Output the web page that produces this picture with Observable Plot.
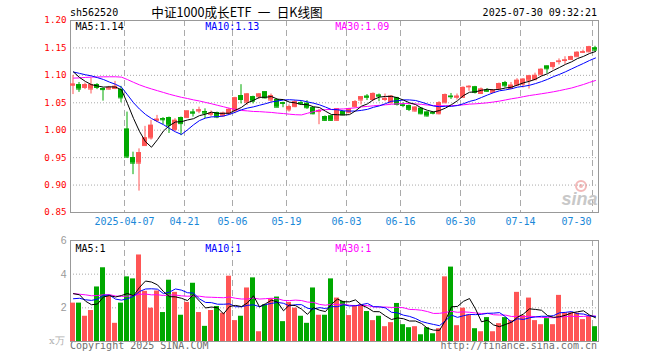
<!DOCTYPE html>
<html><head><meta charset="utf-8">
<script src="https://cdn.jsdelivr.net/npm/d3@7"></script>
<script src="https://cdn.jsdelivr.net/npm/@observablehq/plot@0.6"></script>
<style>
body{margin:0;background:#fff;}
#wrap{position:relative;width:660px;height:360px;overflow:hidden;}
#wrap > *{position:absolute;left:0;}
</style></head><body><div id="wrap"></div>
<script>
const dates = ["03-24","03-25","03-26","03-27","03-28","03-31","04-01","04-02","04-03","04-07","04-08","04-09","04-10","04-11","04-14","04-15","04-16","04-17","04-18","04-21","04-22","04-23","04-24","04-25","04-28","04-29","04-30","05-06","05-07","05-08","05-09","05-12","05-13","05-14","05-15","05-16","05-19","05-20","05-21","05-22","05-23","05-26","05-27","05-28","05-29","05-30","06-03","06-04","06-05","06-06","06-09","06-10","06-11","06-12","06-13","06-16","06-17","06-18","06-19","06-20","06-23","06-24","06-25","06-26","06-27","06-30","07-01","07-02","07-03","07-04","07-07","07-08","07-09","07-10","07-11","07-14","07-15","07-16","07-17","07-18","07-21","07-22","07-23","07-24","07-25","07-28","07-29","07-30"];
const open = [1.082,1.083,1.078,1.075,1.083,1.076,1.075,1.076,1.074,1.002, 0.950,0.940,0.972,0.986,1.018,1.021,1.023,1.001,1.023,1.023, 1.033,1.035,1.034,1.029,1.032,1.026,1.030,1.036,1.063,1.051, 1.061,1.061,1.070,1.055,1.056,1.050,1.037,1.043,1.050,1.049, 1.041,1.034,1.025,1.026,1.018,1.034,1.032,1.043,1.055,1.062, 1.056,1.064,1.056,1.050,1.059,1.046,1.045,1.035,1.040,1.033, 1.032,1.030,1.050,1.062,1.060,1.060,1.079,1.079,1.067,1.073, 1.069,1.075,1.087,1.076,1.082,1.084,1.091,1.092,1.101,1.117, 1.116,1.125,1.127,1.129,1.134,1.142,1.143,1.150];
const high = [1.100,1.087,1.086,1.095,1.085,1.077,1.080,1.089,1.080,1.033, 0.960,0.966,1.007,1.018,1.027,1.023,1.024,1.021,1.024,1.035, 1.038,1.042,1.039,1.035,1.033,1.033,1.040,1.060,1.083,1.067, 1.062,1.067,1.070,1.066,1.057,1.051,1.046,1.054,1.054,1.054, 1.042,1.038,1.026,1.027,1.039,1.035,1.040,1.054,1.061,1.065, 1.068,1.066,1.066,1.063,1.060,1.050,1.046,1.043,1.041,1.034, 1.034,1.052,1.066,1.067,1.066,1.079,1.081,1.080,1.077,1.076, 1.074,1.086,1.089,1.087,1.094,1.094,1.100,1.104,1.112,1.117, 1.123,1.130,1.134,1.135,1.143,1.146,1.153,1.153];
const low = [1.065,1.069,1.074,1.066,1.074,1.053,1.073,1.074,1.050,0.949, 0.919,0.889,0.972,0.982,1.014,1.010,0.994,0.998,0.990,1.022, 1.024,1.030,1.021,1.024,1.021,1.024,1.028,1.030,1.048,1.045, 1.048,1.056,1.057,1.051,1.041,1.041,1.033,1.041,1.046,1.038, 1.028,1.010,1.016,1.016,1.016,1.027,1.030,1.041,1.046,1.054, 1.052,1.052,1.052,1.048,1.044,1.041,1.034,1.033,1.028,1.024, 1.028,1.028,1.050,1.056,1.055,1.059,1.071,1.066,1.065,1.069, 1.068,1.073,1.077,1.075,1.080,1.077,1.075,1.091,1.100,1.103, 1.110,1.119,1.120,1.128,1.134,1.140,1.141,1.143];
const close = [1.084,1.075,1.083,1.083,1.078,1.074,1.078,1.080,1.059,0.951, 0.940,0.959,0.986,1.009,1.020,1.019,1.009,1.018,1.012,1.035, 1.031,1.037,1.031,1.031,1.024,1.031,1.038,1.059,1.056,1.066, 1.053,1.066,1.059,1.063,1.042,1.049,1.043,1.052,1.048,1.041, 1.030,1.036,1.018,1.018,1.039,1.028,1.039,1.052,1.061,1.060, 1.067,1.062,1.058,1.062,1.047,1.045,1.038,1.042,1.030,1.026, 1.031,1.050,1.065,1.061,1.062,1.078,1.080,1.069,1.075,1.071, 1.073,1.085,1.081,1.082,1.091,1.093,1.099,1.100,1.111,1.112, 1.123,1.126,1.128,1.134,1.142,1.143,1.152,1.146];
const volume = [2.28,2.28,1.50,1.84,3.24,4.38,2.68,1.08,2.28,3.84, 3.72,5.14,2.98,1.98,3.00,1.72,3.64,2.92,1.56,2.32, 3.46,1.72,0.90,1.84,2.08,1.68,3.88,1.24,1.50,3.18, 3.78,0.58,2.18,2.54,2.64,1.18,2.32,1.98,1.50,1.08, 3.18,1.56,1.56,3.72,2.58,2.38,1.54,2.14,2.18,1.78, 1.24,1.50,0.88,1.12,2.26,1.00,0.82,0.88,0.40,0.82, 0.46,0.76,3.84,4.42,0.94,1.98,1.58,0.76,0.58,1.42, 0.58,1.06,1.42,1.24,2.92,1.54,2.58,1.24,1.00,1.36, 1.00,2.74,1.70,1.70,1.68,1.30,1.50,0.88];
// estimated sessions before the visible window (needed for the moving averages)
const priorCloses = [1.062,1.058,1.065,1.070,1.068,1.075,1.080,1.078,1.085,1.090, 1.098,1.105,1.112,1.118,1.115,1.108,1.102,1.095,1.100,1.104, 1.100,1.108,1.104,1.110,1.108, 1.125,1.120,1.112,1.090];
const priorVolumes = [3.2,2.6,3.5,2.8,3.1,2.4,3.6,2.9,3.3,2.7, 3.0,2.5,3.4,2.8,3.1,2.6,3.2,2.9,3.0,3.2, 2.0,2.4,2.2,2.5,2.1, 2.6,3.4,2.9,3.02];
const tickDates = ["04-07","04-21","05-06","05-19","06-03","06-16","06-30","07-14","07-30"];
const tickLabels = ["2025-04-07","04-21","05-06","05-19","06-03","06-16","06-30","07-14","07-30"];
const priceTicks = [0.85,0.90,0.95,1.00,1.05,1.10,1.15,1.20];
const volTicks = [2,4,6];
const priceLegend = ["MA5:1.14","MA10:1.13","MA30:1.09"];
const volLegend = ["MA5:1","MA10:1","MA30:1"];
const maColors = ["#000000","#0000ff","#ff00ff"];

const UP = "#ff5555", DOWN = "#00a800";
const MONO = "DejaVu Sans Mono";

function movingAvg(series, prior, n) {
  const all = prior.concat(series), off = prior.length;
  return series.map((_, i) => d3.mean(all.slice(off + i - n + 1, off + i + 1)));
}
const pMA = [5, 10, 30].map(n => movingAvg(close, priorCloses, n));
const vMA = [5, 10, 30].map(n => movingAvg(volume, priorVolumes, n));

const candles = dates.map((d, i) => ({date: d, open: open[i], high: high[i], low: low[i], close: close[i], vol: volume[i], up: close[i] >= open[i]}));
const col = d => d.up ? UP : DOWN;
const legendX = [5, 134.7, 264.7];

const main = Plot.plot({
  width: 660, height: 230,
  marginLeft: 70, marginRight: 62, marginTop: 20, marginBottom: 18,
  x: {type: "band", domain: dates, padding: 0, axis: null},
  y: {domain: [0.85, 1.20], axis: null},
  style: {background: "transparent", fontFamily: MONO, overflow: "visible"},
  marks: [
    Plot.ruleY(priceTicks.slice(1, -1), {stroke: "#aaa", strokeDasharray: "1,2"}),
    Plot.ruleX(tickDates, {x: d => d, dx: -3, stroke: "#aaa", strokeDasharray: "6,4"}),
    Plot.frame({stroke: "#999"}),
    Plot.text(["sina"], {text: d => d, frameAnchor: "bottom-right", textAnchor: "end", dx: -1, dy: -8, fontSize: 18, fontWeight: "bold", fontStyle: "italic", fontFamily: "Liberation Sans", fill: "#c8c8c8"}),
    Plot.ruleX(candles, {x: "date", y1: "low", y2: "high", stroke: col, dx: -0.5}),
    Plot.barY(candles, {x: "date", y1: "open", y2: "close", fill: col, insetRight: 1}),
    Plot.tickY(candles, {x: "date", y: "open", stroke: col, insetRight: 1}),
    Plot.tickY(candles, {x: "date", y: "close", stroke: col, insetRight: 1}),
    ...[2, 1, 0].map(k => Plot.line(candles, {x: "date", y: (d, i) => pMA[k][i], stroke: maColors[k], strokeWidth: 1})),
    Plot.text(priceTicks, {y: d => d, text: d => d.toFixed(2), frameAnchor: "left", textAnchor: "end", dx: -4, fill: "#ff0000", fontSize: 9.2}),
    Plot.text(tickDates.slice(0, -1), {x: d => d, text: (d, i) => tickLabels[i], frameAnchor: "bottom", lineAnchor: "top", dy: 5.5, dx: -3, fill: "#1a88d8", fontSize: 10}),
    Plot.text(tickDates.slice(-1), {x: d => d, text: () => tickLabels[tickLabels.length - 1], frameAnchor: "bottom", lineAnchor: "top", dy: 5.5, dx: -4, textAnchor: "end", fill: "#1a88d8", fontSize: 10}),
    ...priceLegend.map((t, k) => Plot.text([t], {text: d => d, frameAnchor: "top-left", textAnchor: "start", lineAnchor: "top", dx: legendX[k], dy: 2.7, fill: maColors[k], fontSize: 10}))
  ]
});
main.style.top = "0px";

const vol = Plot.plot({
  width: 660, height: 130,
  marginLeft: 70, marginRight: 62, marginTop: 10, marginBottom: 19,
  x: {type: "band", domain: dates, padding: 0, axis: null},
  y: {domain: [0, 6], axis: null},
  style: {background: "transparent", fontFamily: MONO, overflow: "visible"},
  marks: [
    Plot.ruleY(volTicks.slice(0, -1), {stroke: "#aaa", strokeDasharray: "1,2"}),
    Plot.ruleX(tickDates, {x: d => d, dx: -3, stroke: "#aaa", strokeDasharray: "6,4"}),
    Plot.frame({stroke: "#999"}),
    Plot.barY(candles, {x: "date", y: "vol", fill: col, insetRight: 1}),
    ...[2, 1, 0].map(k => Plot.line(candles, {x: "date", y: (d, i) => vMA[k][i], stroke: maColors[k], strokeWidth: 1})),
    Plot.text(volTicks, {y: d => d, text: d => String(d), frameAnchor: "left", textAnchor: "end", dx: -4, fill: "#999", fontSize: 10.5, fontFamily: "Liberation Sans"}),
    ...volLegend.map((t, k) => Plot.text([t], {text: d => d, frameAnchor: "top-left", textAnchor: "start", lineAnchor: "top", dx: legendX[k], dy: 4.3, fill: maColors[k], fontSize: 10}))
  ]
});
vol.style.top = "230px";

const wrap = document.getElementById("wrap");
// page texts (header and footer) and the watermark eye
const svg = d3.create("svg").attr("width", 660).attr("height", 360).style("top", "0px");
svg.append("circle").attr("cx", 581).attr("cy", 186).attr("r", 5).attr("fill", "none").attr("stroke", "#f3b8b8").attr("stroke-width", 2);
svg.append("circle").attr("cx", 581).attr("cy", 186).attr("r", 2).attr("fill", "#f3b8b8");
const txt = (x, y, s, o) => svg.append("text").attr("x", x).attr("y", y).text(s)
  .attr("font-family", o.family || MONO).attr("font-size", o.size || 10)
  .attr("fill", o.fill || "#000").attr("text-anchor", o.anchor || "start");
txt(70, 16, "sh562520", {});
txt(237, 17, "中证1000成长ETF\u2002一\u2002日K线图", {family: "Noto Sans CJK SC", size: 12.6, anchor: "middle"});
txt(597, 16, "2025-07-30 09:32:21", {anchor: "end"});
txt(70, 349, "Copyright 2025 SINA.COM", {fill: "#707070"});
txt(597, 349, "http://finance.sina.com.cn", {fill: "#707070", anchor: "end"});
txt(49, 344, "x万", {family: "DejaVu Serif", size: 10, fill: "#b0b0b0"});
wrap.appendChild(svg.node());
wrap.appendChild(main);
wrap.appendChild(vol);
</script></body></html>
